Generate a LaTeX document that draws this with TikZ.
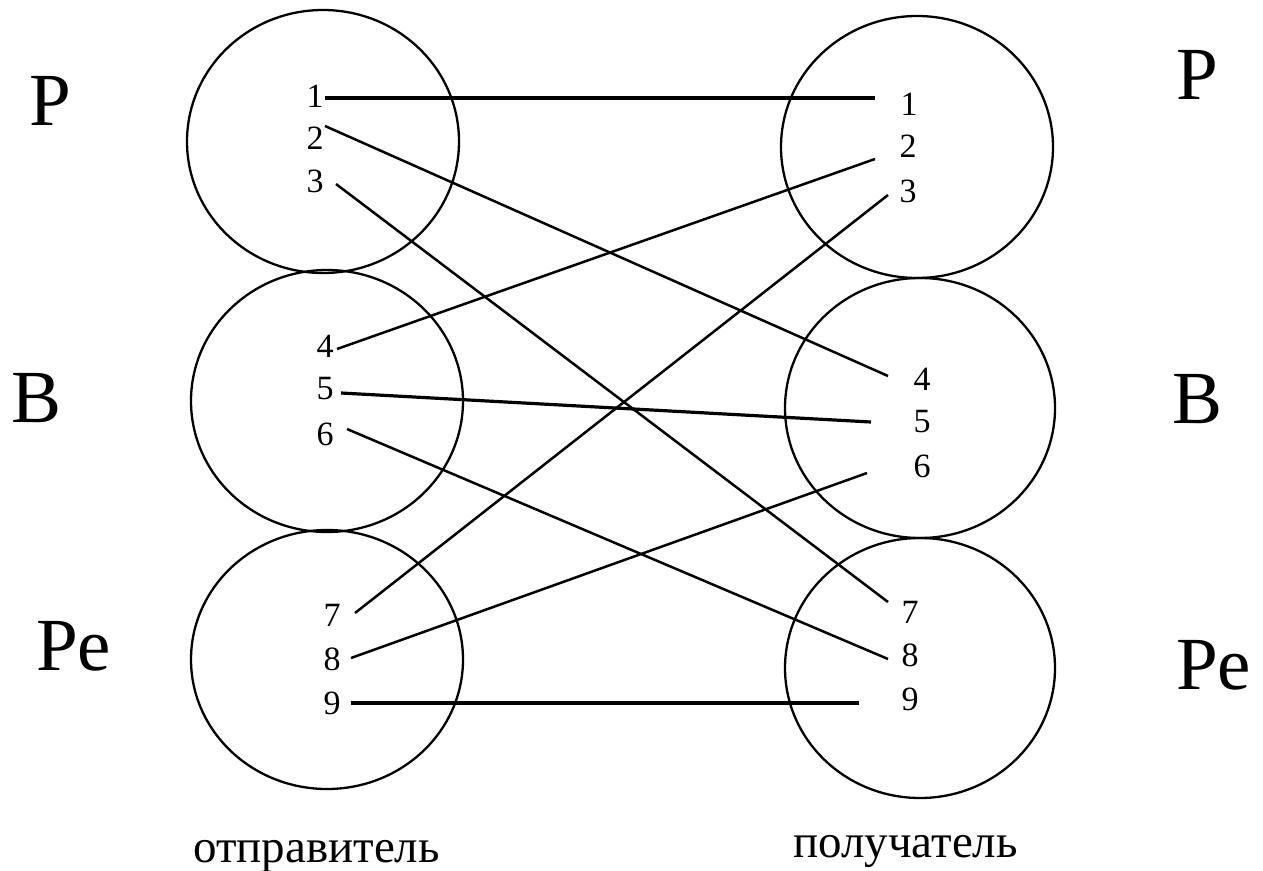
\documentclass[tikz,border=0pt]{standalone}
\usepackage{fontspec}
\setmainfont{Liberation Serif}
\usetikzlibrary{calc}
\begin{document}
\begin{tikzpicture}[x=1pt,y=-1pt,
  ring/.style={line width=2.3pt},
  wire/.style={line width=2.5pt},
  hwire/.style={line width=3.2pt},
  num/.style={inner sep=0pt, font=\fontsize{34}{40}\selectfont},
  big/.style={inner sep=0pt, anchor=base west, font=\fontsize{75}{90}\selectfont},
  captext/.style={inner sep=0pt, anchor=base west, font=\fontsize{47}{55}\selectfont}]
\useasboundingbox[fill=white] (0,0) rectangle (1263,870);

% circles
\draw[ring] (323,141.5) ellipse [x radius=136pt, y radius=131.5pt];
\draw[ring] (327,401) ellipse [x radius=136pt, y radius=131pt];
\draw[ring] (327,659.5) ellipse [x radius=136pt, y radius=129.5pt];
\draw[ring] (917,147) ellipse [x radius=136pt, y radius=131pt];
\draw[ring] (920,408) ellipse [x radius=135pt, y radius=130pt];
\draw[ring] (920,668) ellipse [x radius=135pt, y radius=130pt];

% numbers (sender)
\node[num] (L1) at (315,96) {1};
\node[num] (L2) at (315,138) {2};
\node[num] (L3) at (315,181) {3};
\node[num] (L4) at (325,346) {4};
\node[num] (L5) at (325,389) {5};
\node[num] (L6) at (325,434) {6};
\node[num] (L7) at (332,615) {7};
\node[num] (L8) at (332,659) {8};
\node[num] (L9) at (332,703) {9};
% numbers (receiver)
\node[num] (R1) at (909,104) {1};
\node[num] (R2) at (908,146) {2};
\node[num] (R3) at (908,191) {3};
\node[num] (R4) at (922,379) {4};
\node[num] (R5) at (922,422) {5};
\node[num] (R6) at (922,466) {6};
\node[num] (R7) at (910,612) {7};
\node[num] (R8) at (910,655) {8};
\node[num] (R9) at (910,699) {9};

% connectors
\draw[hwire] ($(L1)+(10,2)$) -- ($(R1)+(-34,-6)$);
\draw[wire] ($(L2)+(10,-12)$) -- ($(R4)+(-34,-3)$);
\draw[wire] ($(L3)+(21,3)$) -- ($(R7)+(-22,-10)$);
\draw[wire] ($(L4)+(12,3)$) -- ($(R2)+(-33,13)$);
\draw[hwire] ($(L5)+(16,4)$) -- ($(R5)+(-51,0)$);
\draw[wire] ($(L6)+(22,-5)$) -- ($(R8)+(-22,4)$);
\draw[wire] ($(L7)+(23,-2)$) -- ($(R3)+(-20,4)$);
\draw[wire] ($(L8)+(19,-1)$) -- ($(R6)+(-55,7)$);
\draw[hwire] ($(L9)+(19,0)$) -- ($(R9)+(-51,4)$);

% side labels
\node[big] (lP) at (29,125) {P};
\node[big] (lB) at (11,422) {B};
\node[big] (lPe) at (36,670) {Pe};
\node[big] (rP) at (1176,99) {P};
\node[big] (rB) at (1172,423) {B};
\node[big] (rPe) at (1176,689) {Pe};

% captions
\node[captext] (snd) at (193,862) {отправитель};
\node[captext] (rcv) at (793,857) {получатель};
\end{tikzpicture}
\end{document}
